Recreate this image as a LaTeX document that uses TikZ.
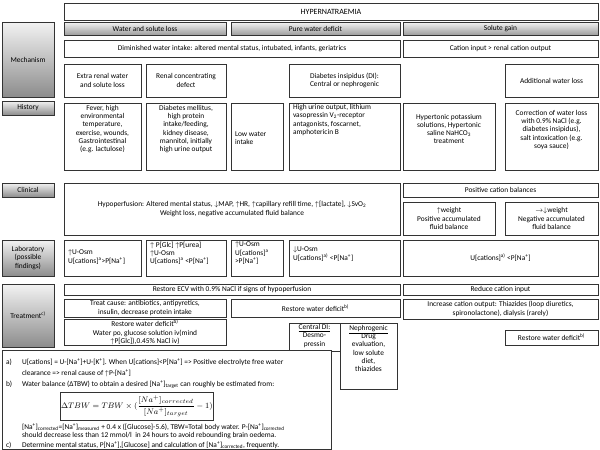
\documentclass[tikz,border=0pt]{standalone}
\usepackage{fontspec}
\setmainfont{Carlito}
\newcommand\uarr{\ensuremath{\uparrow}}
\newcommand\darr{\ensuremath{\downarrow}}
\newcommand\rarr{\ensuremath{\rightarrow}}
\newcommand\Na{[Na\textsuperscript{+}]}
\newcommand\sps[1]{\textsuperscript{#1}}
\newcommand\bx[7][]{\node[box,#1,anchor=north west,minimum width={(#5-#3)*1pt},minimum height={(#6-#4)*1pt}] (#2) at (#3,#4) {#7};}
\begin{document}
\begin{tikzpicture}[x=1pt,y=-1pt,
  font=\fontsize{7.4}{8.3}\selectfont,
  box/.style={draw=black!80, line width=0.8pt, inner sep=1pt, outer sep=0pt, align=center},
  hdr/.style={box, top color=black!5, bottom color=black!38},
  lbl/.style={box, top color=black!5, bottom color=black!45},
  txt/.style={inner sep=0pt, outer sep=0pt}]
\useasboundingbox[fill=white] (0,0) rectangle (600,450);
% header
\bx[font=\fontsize{8}{9}\selectfont]{title}{64}{3}{598}{20}{HYPERNATRAEMIA}
\bx[hdr]{h1}{64}{22}{226}{35}{Water and solute loss}
\bx[hdr]{h2}{231}{22}{400}{35}{Pure water deficit}
\bx[hdr]{h3}{403}{22}{598}{35}{Solute gain}
% mechanism
\bx[lbl]{lmech}{2}{22}{54}{97}{Mechanism}
\bx{dim}{64}{40}{400}{57}{Diminished water intake: altered mental status, intubated, infants, geriatrics}
\bx{cat}{403}{40}{598}{57}{Cation input > renal cation output}
\bx{extra}{64}{64}{141}{97}{Extra renal water\\and solute loss}
\bx{renal}{146}{64}{226}{97}{Renal concentrating\\defect}
\bx{di}{289}{64}{400}{97}{Diabetes insipidus (DI):\\Central or nephrogenic}
\bx{addw}{505}{64}{598}{97}{Additional water loss}
% history
\bx[lbl]{lhist}{2}{101}{54}{115}{History}
\bx{fever}{64}{103}{141}{170}{}
\node[txt,align=center,anchor=north] (tfever) at (102.5,105) {Fever, high\\environmental\\temperature,\\exercise, wounds,\\Gastrointestinal\\(e.g. lactulose)};
\bx{dm}{146}{103}{226}{170}{}
\node[txt,align=center,anchor=north] (tdm) at (186,105) {Diabetes mellitus,\\high protein\\intake/feeding,\\kidney disease,\\mannitol, initially\\high urine output};
\bx{low}{231}{103}{283}{170}{}
\node[txt,align=left,anchor=west] (tlow) at (235,138) {Low water\\intake};
\bx{urine}{289}{103}{400}{170}{}
\node[txt,align=left,anchor=north west] (turine) at (293,104.5) {High urine output, lithium\\vasopressin V\textsubscript{2}-receptor\\antagonists, foscarnet,\\amphotericin B};
\bx{hyk}{403}{103}{495}{170}{}
\node[txt,align=center] (thyk) at (449,129) {Hypertonic potassium\\solutions, Hypertonic\\saline NaHCO\textsubscript{3}\\treatment};
\bx{corr}{505}{103}{598}{170}{}
\node[txt,align=center] (tcorr) at (551.5,130) {Correction of water loss\\with 0.9\% NaCl (e.g.\\diabetes insipidus),\\salt intoxication (e.g.\\soya sauce)};
% clinical
\bx[lbl]{lclin}{2}{183}{54}{197}{Clinical}
\bx{hypo}{64}{183}{400}{235}{Hypoperfusion: Altered mental status, \darr MAP, \uarr HR, \uarr capillary refill time, \uarr[lactate], \darr SvO\textsubscript{2}\\Weight loss, negative accumulated fluid balance}
\bx{pcb}{403}{183}{598}{197}{Positive cation balances}
\bx{wup}{403}{202}{495}{235}{\uarr weight\\Positive accumulated\\fluid balance}
\bx{wdn}{505}{202}{598}{235}{\rarr\darr weight\\Negative accumulated\\fluid balance}
% laboratory
\bx[lbl]{llab}{2}{240}{54}{276}{Laboratory\\(possible\\findings)}
\bx{lab1}{64}{240}{141}{276}{}
\node[txt,align=left,anchor=west] (tlab1) at (68,257) {\uarr U-Osm\\U[cations]\sps{a}>P\Na};
\bx{lab2}{146}{240}{226}{276}{}
\node[txt,align=left,anchor=north west] (tlab2) at (150,242) {\uarr\ P[Glc] \uarr P[urea]\\\uarr U-Osm\\U[cations]\sps{a} <P\Na};
\bx{lab3}{231}{240}{283}{276}{}
\node[txt,align=left,anchor=north west] (tlab3) at (235,242) {\uarr U-Osm\\U[cations]\sps{a}\\>P\Na};
\bx{lab4}{289}{240}{400}{276}{}
\node[txt,align=left,anchor=west] (tlab4) at (293,254) {\darr U-Osm\\U[cations]\sps{a)} <P\Na};
\bx{lab5}{403}{240}{598}{276}{U[cations]\sps{a)} <P\Na}
% treatment
\bx[lbl]{ltreat}{2}{284}{54}{347}{Treatment\sps{c)}}
\bx{ecv}{64}{284}{400}{295}{Restore ECV with 0.9\% NaCl if signs of hypoperfusion}
\bx{rci}{403}{284}{598}{295}{Reduce cation input}
\bx{treat}{64}{299}{226}{317}{Treat cause: antibiotics, antipyretics,\\insulin, decrease protein intake}
\bx{rwdm}{231}{299}{400}{317}{Restore water deficit\sps{b)}}
\bx{inc}{403}{299}{598}{319}{Increase cation output: Thiazides (loop diuretics,\\spironolactone), dialysis (rarely)}
\bx{rwdl}{64}{319}{226}{345}{Restore water deficit\sps{b)}\\Water po, glucose solution iv(mind\\\uarr P[Glc]),0.45\% NaCl iv)}
\bx{cdi}{289}{323}{340}{351}{}
\node[txt,align=center,anchor=north] (tcdi) at (314.5,324.5) {\underline{Central DI:}\\Desmo-\\pressin};
\bx{neph}{340}{323}{397}{389}{}
\node[txt,align=center,anchor=north] (tneph) at (368.5,325) {\underline{Nephrogenic}\\Drug\\evaluation,\\low solute\\diet,\\thiazides};
\bx{rwdr}{505}{330}{598}{345}{Restore water deficit\sps{b)}}
% footnotes
\bx[fill=white]{foot}{2}{350}{331}{449}{}
\node[txt,anchor=mid west] (fa) at (6,362) {a)};
\node[txt,anchor=mid west] (fat) at (22,362) {U[cations] = U-\Na+U-[K\sps{+}]. When U[cations]<P\Na{} => Positive electrolyte free water};
\node[txt,anchor=mid west] (fat2) at (22,373) {clearance => renal cause of \uarr P-\Na};
\node[txt,anchor=mid west] (fb) at (6,384) {b)};
\node[txt,anchor=mid west] (fbt) at (22,384) {Water balance (ΔTBW) to obtain a desired \Na\textsubscript{target} can roughly be estimated from:};
\node[box,anchor=north west,minimum width=139pt,minimum height=28pt,font=\fontsize{8}{9}\selectfont] (formula) at (60,392) {$\displaystyle \Delta TBW = TBW\times(\frac{[Na^{+}]_{corrected}}{[Na^{+}]_{target}}-1)$};
\node[txt,anchor=mid west] (fbt2) at (22,427) {\Na\textsubscript{corrected}=\Na\textsubscript{measured} + 0.4 x ([Glucose]-5.6), TBW=Total body water. P-\Na\textsubscript{corrected}};
\node[txt,anchor=mid west] (fbt3) at (22,435.5) {should decrease less than 12 mmol/l\ \ in 24 hours to avoid rebounding brain oedema.};
\node[txt,anchor=mid west] (fc) at (6,445) {c)};
\node[txt,anchor=mid west] (fct) at (22,445) {Determine mental status, P\Na,[Glucose] and calculation of \Na\textsubscript{corrected}, frequently.};
\end{tikzpicture}
\end{document}
